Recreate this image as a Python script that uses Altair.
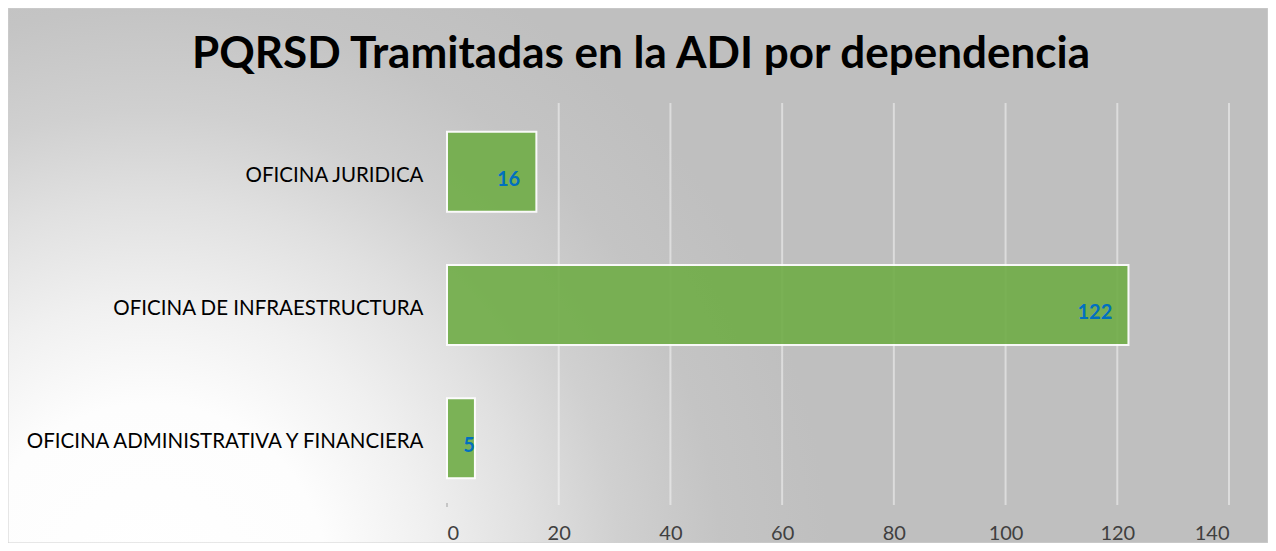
import altair as alt
import pandas as pd

categories = ["OFICINA JURIDICA", "OFICINA DE INFRAESTRUCTURA", "OFICINA ADMINISTRATIVA Y FINANCIERA"]
values = [16, 122, 5]
grid_ticks = [20, 40, 60, 80, 100, 120, 140]
axis_ticks = [0, 20, 40, 60, 80, 100, 120, 140]

W, H = 782, 400
PL, PT, PR, PB = 439, 97, 39, 38
FONT = "Lato"

df = pd.DataFrame({"cat": categories, "val": values})
grid_df = pd.DataFrame({"t": grid_ticks})
zero_df = pd.DataFrame({"t": [0]})
xscale = alt.Scale(domain=[0, 140], nice=False, zero=True)

bg = alt.Chart(pd.DataFrame({"a": [1]})).mark_rect(
    color={
        "gradient": "radial",
        "x1": 0.113, "y1": 0.742, "r1": 0.0,
        "x2": 0.113, "y2": 0.742, "r2": 0.54,
        "stops": [
            {"offset": 0.0, "color": "#FFFFFF"},
            {"offset": 0.26, "color": "#FDFDFD"},
            {"offset": 0.41, "color": "#F0F0F0"},
            {"offset": 0.56, "color": "#E0E0E0"},
            {"offset": 0.69, "color": "#D0D0D0"},
            {"offset": 0.84, "color": "#C4C4C4"},
            {"offset": 1.0, "color": "#BFBFBF"},
        ],
    },
    stroke="#D0D0D0", strokeWidth=1,
).encode(
    x=alt.value(-PL), x2=alt.value(W + PR),
    y=alt.value(-PT), y2=alt.value(H + PB),
)

grid = alt.Chart(grid_df).mark_rule(color="white", strokeWidth=2, opacity=0.45).encode(
    x=alt.X("t:Q", scale=xscale),
    y=alt.value(-2), y2=alt.value(H),
)

zero_tick = alt.Chart(zero_df).mark_rule(color="#A0A0A0", strokeWidth=1).encode(
    x=alt.X("t:Q", scale=xscale),
    y=alt.value(H - 2), y2=alt.value(H + 2),
)

bars = alt.Chart(df).mark_bar(
    color="#70AD47", opacity=0.9, stroke="white", strokeWidth=2
).encode(
    y=alt.Y("cat:N", sort=categories,
            scale=alt.Scale(paddingInner=0.4, paddingOuter=0.2),
            axis=alt.Axis(title=None, domain=False, ticks=False, labelPadding=24,
                          labelOffset=4,
                          labelFont=FONT, labelFontSize=20.5, labelColor="#000000",
                          labelLimit=500, zindex=1)),
    x=alt.X("val:Q", scale=xscale,
            axis=alt.Axis(title=None, values=axis_ticks, domain=False, ticks=False,
                          grid=False, labelPadding=18, labelFont=FONT,
                          labelFontSize=20, labelColor="#404040", zindex=1)),
)

labels = alt.Chart(df).transform_calculate(
    lx="datum.val >= 10 ? datum.val - 2.9 : datum.val"
).mark_text(
    align="right", baseline="middle", dy=8, font=FONT, fontSize=20,
    fontWeight="bold", color="#0070C0"
).encode(
    y=alt.Y("cat:N", sort=categories),
    x=alt.X("lx:Q", scale=xscale),
    text=alt.Text("val:Q"),
)

chart = alt.layer(bg, grid, zero_tick, bars, labels).properties(
    width=W, height=H,
    title=alt.TitleParams(
        "PQRSD Tramitadas en la ADI por dependencia",
        font=FONT, fontSize=44, fontWeight="bold", color="#000000",
        anchor="middle", baseline="alphabetic", dx=-197, offset=-104, zindex=1,
    ),
    autosize=alt.AutoSizeParams(type="none"),
    padding={"left": PL, "top": PT, "right": PR, "bottom": PB},
).configure_view(stroke=None).configure(background="white")

chart.save("out.html", embed_options={"renderer": "svg", "actions": False})
